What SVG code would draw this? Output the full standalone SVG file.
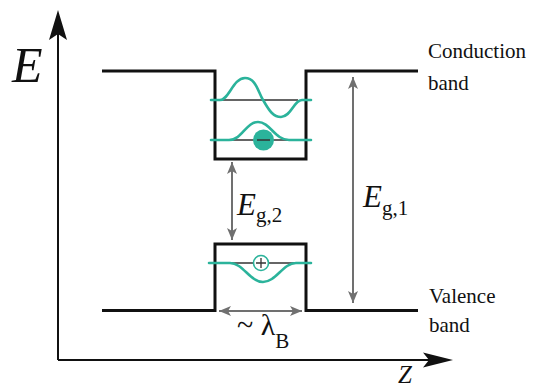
<svg xmlns="http://www.w3.org/2000/svg" width="542" height="389" viewBox="0 0 542 389">
<style>
text{font-family:"Liberation Serif","Times New Roman","DejaVu Serif",serif;fill:#111}
.it{font-style:italic}
.band{fill:none;stroke:#111;stroke-width:3}
.axis{fill:none;stroke:#111;stroke-width:2}
.lvl{fill:none;stroke:#333;stroke-width:1.3}
.wave{fill:none;stroke:#2bb39b;stroke-width:2.6;stroke-linecap:round}
.gap{fill:none;stroke:#707070;stroke-width:2;marker-start:url(#ah);marker-end:url(#ah)}
</style>
<defs>
<marker id="ah" viewBox="0 0 12 10" refX="12" refY="5" markerWidth="12" markerHeight="10" markerUnits="userSpaceOnUse" orient="auto-start-reverse">
<path d="M0,0 L12,5 L0,10 L3,5 Z" fill="#707070"/>
</marker>
</defs>
<rect width="542" height="389" fill="#fff"/>
<g id="axes">
<path class="axis" d="M58,360 V24 M58,360 H440"/>
<path d="M58,10 L67,40 L58,34 L49,40 Z" fill="#111"/>
<path d="M453,360 L423,352.5 L429,360 L423,367.5 Z" fill="#111"/>
<text class="it" x="12" y="82" font-size="50">E</text>
<text class="it" x="398" y="383" font-size="25">Z</text>
</g>
<g id="conduction-band">
<path class="band" d="M102,71 H215 V159 H306 V71 H418"/>
<text x="428" y="58" font-size="21">Conduction</text>
<text x="428" y="90" font-size="21">band</text>
</g>
<g id="valence-band">
<path class="band" d="M102,310.5 H215 V244 H306 V310.5 H418"/>
<text x="429" y="303" font-size="21">Valence</text>
<text x="429" y="332" font-size="21">band</text>
</g>
<g id="electron-states">
<path class="lvl" d="M220,100 H298 M220,140 H298"/>
<path class="wave" d="M211,100 L220,100 C229,100 233,78 245,78 C256,78 258,92 263,100 C268,108 272,117 281,117 C291,117 294,100 302,100 L311,100"/>
<path class="wave" d="M211,140 L229,140 C242,140 246,122 258,122 C270,122 275,140 289,140 L311,140"/>
</g>
<g id="electron">
<circle cx="263.5" cy="140" r="10.5" fill="#2bb39b"/>
<path d="M257,140 H270" stroke="#333" stroke-width="1.5"/>
</g>
<g id="hole-state">
<path class="lvl" d="M220,263 H298"/>
<path class="wave" d="M209,263 L230,263 C243,263 250,282 263,282 C276,282 283,263 296,263 L311,263"/>
</g>
<g id="hole">
<circle cx="261" cy="263" r="7.5" fill="#fff" stroke="#2bb39b" stroke-width="1.6"/>
<path d="M256,263 H266 M261,258 V268" stroke="#333" stroke-width="1.3"/>
</g>
<g id="connectors">
<line class="gap" x1="232" y1="162" x2="232" y2="240"/>
<line class="gap" x1="353" y1="77" x2="353" y2="303"/>
<line class="gap" x1="219" y1="311" x2="302" y2="311"/>
</g>
<g id="labels">
<text x="237" y="215"><tspan class="it" font-size="31">E</tspan><tspan font-size="21" dy="7">g,2</tspan></text>
<text x="363" y="207"><tspan class="it" font-size="31">E</tspan><tspan font-size="21" dy="8">g,1</tspan></text>
<text x="237" y="335" font-size="30">~ λ<tspan font-size="21" dy="13">B</tspan></text>
</g>
</svg>
